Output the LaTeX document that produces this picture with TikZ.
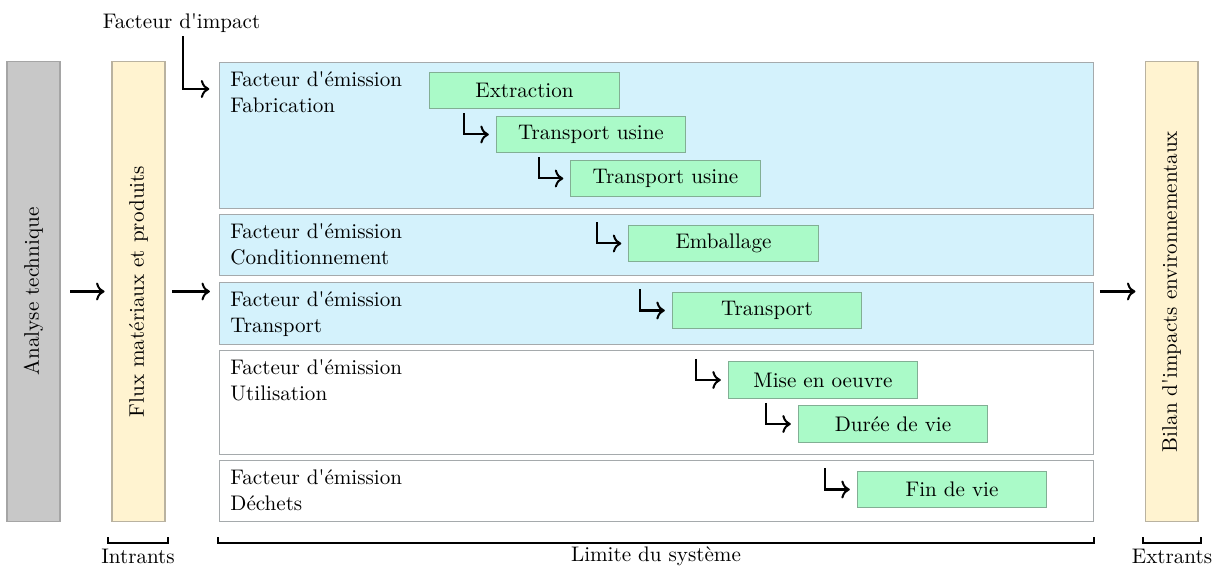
\documentclass[tikz,border=0pt]{standalone}
\usetikzlibrary{arrows.meta,calc}
\definecolor{greyfill}{RGB}{200,200,200}
\definecolor{greyline}{RGB}{165,165,165}
\definecolor{creamfill}{RGB}{255,243,208}
\definecolor{creamline}{RGB}{185,178,160}
\definecolor{bluefill}{RGB}{212,242,252}
\definecolor{boxline}{RGB}{165,170,172}
\definecolor{greenfill}{RGB}{170,250,200}
\definecolor{greenline}{RGB}{130,175,148}
\newcommand{\ap}{\textquotesingle}
\begin{document}
\begin{tikzpicture}[x=0.474pt,y=-0.474pt,
  font=\fontsize{10}{12}\selectfont,
  sidebox/.style={draw=greyline, line width=0.5pt, minimum width=25.1pt, minimum height=217.6pt, inner sep=0pt},
  mainbox/.style={draw=boxline, line width=0.5pt, minimum width=414.3pt, anchor=north west, inner sep=0pt},
  lbl/.style={anchor=north west, align=left, inner sep=0pt},
  stepbox/.style={draw=greenline, fill=greenfill, line width=0.5pt, minimum width=90pt, minimum height=17.5pt, inner sep=0pt},
  flow/.style={-{To[length=4pt,width=8.5pt]}, line width=0.95pt},
  brk/.style={line width=1pt},
  hookarrow/.style={flow}
]
\useasboundingbox (0,0) rectangle (1217,567);

% side boxes
\node[sidebox, fill=greyfill] (tech) at (33.5,291.5) {\rotatebox{90}{Analyse technique}};
\node[sidebox, fill=creamfill, draw=creamline] (flux) at (138.5,291.5) {\rotatebox{90}{Flux matériaux et produits}};
\node[sidebox, fill=creamfill, draw=creamline] (bilan) at (1171.5,291.5) {\rotatebox{90}{Bilan d\ap impacts environnementaux}};

% main boxes
\node[mainbox, fill=bluefill, minimum height=69.2pt] (fab) at (219,62) {};
\node[mainbox, fill=bluefill, minimum height=28.9pt] (cond) at (219,214) {};
\node[mainbox, fill=bluefill, minimum height=29.4pt] (transp) at (219,282) {};
\node[mainbox, fill=white, minimum height=49.3pt] (util) at (219,350) {};
\node[mainbox, fill=white, minimum height=28.9pt] (dech) at (219,460) {};

\node[lbl] (fabL) at ([xshift=5.2pt,yshift=-4.5pt]fab.north west) {Facteur d\ap émission\\Fabrication};
\node[lbl] (condL) at ([xshift=5.2pt,yshift=-4.5pt]cond.north west) {Facteur d\ap émission\\Conditionnement};
\node[lbl] (transpL) at ([xshift=5.2pt,yshift=-4.5pt]transp.north west) {Facteur d\ap émission\\Transport};
\node[lbl] (utilL) at ([xshift=5.2pt,yshift=-4.5pt]util.north west) {Facteur d\ap émission\\Utilisation};
\node[lbl] (dechL) at ([xshift=5.2pt,yshift=-4.5pt]dech.north west) {Facteur d\ap émission\\Déchets};

% step boxes
\node[stepbox] (ext) at (524.5,90.5) {Extraction};
\node[stepbox] (tu1) at (591,134.5) {Transport usine};
\node[stepbox] (tu2) at (665.5,178.5) {Transport usine};
\node[stepbox] (emb) at (723.5,243.5) {Emballage};
\node[stepbox] (tra) at (767,310.5) {Transport};
\node[stepbox] (mise) at (823,380) {Mise en oeuvre};
\node[stepbox] (duree) at (893,424) {Durée de vie};
\node[stepbox] (fin) at (952,489.5) {Fin de vie};

% hook arrows
\foreach \n in {tu1,tu2,emb,tra,mise,duree,fin}{
  \draw[hookarrow] ([xshift=-14.9pt,yshift=1pt]\n.north west) |- ([xshift=-3.2pt]\n.west);
}

% impact factor
\node[inner sep=0pt] (impact) at (181.5,23) {Facteur d\ap impact};
\coordinate (fabin) at (219,89);
\draw[flow, shorten >=4.6pt] ([xshift=0.7pt,yshift=-1.5pt]impact.south) |- (fabin);

% main flow arrows
\coordinate (sysW) at (219,291.5);
\coordinate (sysE) at (1093,291.5);
\draw[flow, shorten <=4.7pt, shorten >=3.3pt] (tech) -- (flux);
\draw[flow, shorten <=3.3pt, shorten >=4.3pt] (flux.east) -- (sysW);
\draw[flow, shorten <=3.3pt, shorten >=4.3pt] (sysE) -- (bilan.west);

% brackets
\draw[brk] (108,537) |- (168,543) -- (168,537);
\draw[brk] (218,537) |- (1094,543) -- (1094,537);
\draw[brk] (1143,537) |- (1201,543) -- (1201,537);
\node (intr) at (138,556) {Intrants};
\node (lim) at (656,556) {Limite du système};
\node (extr) at (1172,556) {Extrants};
\end{tikzpicture}
\end{document}
